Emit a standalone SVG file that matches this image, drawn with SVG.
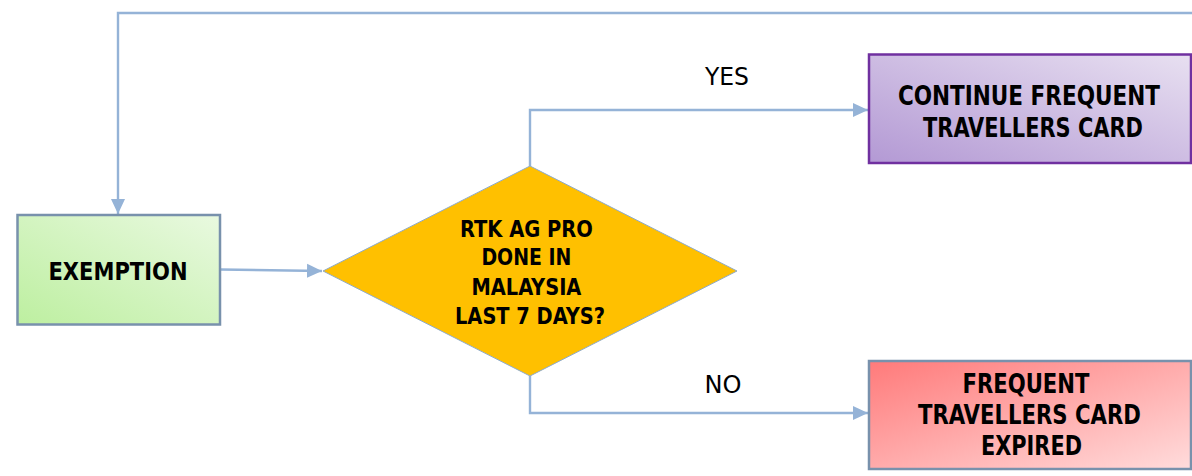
<svg xmlns="http://www.w3.org/2000/svg" width="1192" height="476" viewBox="0 0 1192 476">
  <style>
    .conn { fill: none; stroke: #95B3D7; stroke-width: 2.4; }
    .lbl { font-family: "DejaVu Sans Condensed", "DejaVu Sans", "Liberation Sans", sans-serif; font-weight: bold; fill: #000; text-anchor: middle; }
    .yn { font-family: "DejaVu Sans", "Liberation Sans", sans-serif; font-size: 25px; fill: #000; text-anchor: middle; }
  </style>
  <defs>
    <marker id="arr" markerUnits="userSpaceOnUse" markerWidth="16" markerHeight="16" refX="15" refY="8" orient="auto">
      <path d="M0,1 L15,8 L0,15 Z" fill="#95B3D7"/>
    </marker>
    <linearGradient id="gGreen" x1="0" y1="1" x2="1" y2="0">
      <stop offset="0" stop-color="#BDEFA0"/>
      <stop offset="1" stop-color="#E9F9E0"/>
    </linearGradient>
    <linearGradient id="gPurple" x1="0" y1="1" x2="1" y2="0">
      <stop offset="0" stop-color="#B399D4"/>
      <stop offset="1" stop-color="#E8E0F1"/>
    </linearGradient>
    <linearGradient id="gRed" x1="0" y1="0" x2="1" y2="1">
      <stop offset="0" stop-color="#FF7A7A"/>
      <stop offset="1" stop-color="#FFDCDC"/>
    </linearGradient>
  </defs>

  <g id="connectors">
    <path class="conn" d="M1192,13 L118,13 L118,214" marker-end="url(#arr)"/>
    <path class="conn" d="M220,269.5 L322,271" marker-end="url(#arr)"/>
    <path class="conn" d="M530,166 L530,110 L868,110" marker-end="url(#arr)"/>
    <path class="conn" d="M530,376 L530,413 L868,413" marker-end="url(#arr)"/>
  </g>

  <g id="label-yes"><text class="yn" x="727" y="85" textLength="44" lengthAdjust="spacingAndGlyphs">YES</text></g>
  <g id="label-no"><text class="yn" x="723" y="393" textLength="37" lengthAdjust="spacingAndGlyphs">NO</text></g>

  <g id="exemption">
    <rect x="17.5" y="215" width="202.5" height="109.5" fill="url(#gGreen)" stroke="#7891AC" stroke-width="2.5"/>
    <text class="lbl" x="118" y="280" font-size="25" textLength="139" lengthAdjust="spacingAndGlyphs">EXEMPTION</text>
  </g>

  <g id="decision">
    <polygon points="323,271 530,166 737,271 530,376" fill="#FFC000" stroke="#8EAAC8" stroke-width="1"/>
    <text class="lbl" font-size="23">
      <tspan x="530" y="237" textLength="133" lengthAdjust="spacingAndGlyphs">RTK AG PRO</tspan>
      <tspan x="530" y="265" textLength="90" lengthAdjust="spacingAndGlyphs">DONE IN</tspan>
      <tspan x="530" y="295" textLength="110" lengthAdjust="spacingAndGlyphs">MALAYSIA</tspan>
      <tspan x="530" y="324" textLength="150" lengthAdjust="spacingAndGlyphs">LAST 7 DAYS?</tspan>
    </text>
  </g>

  <g id="continue-card">
    <rect x="869" y="54.5" width="322" height="108.5" fill="url(#gPurple)" stroke="#7030A0" stroke-width="2.5"/>
    <text class="lbl" font-size="26">
      <tspan x="1033" y="105" textLength="262" lengthAdjust="spacingAndGlyphs">CONTINUE FREQUENT</tspan>
      <tspan x="1033" y="137" textLength="220" lengthAdjust="spacingAndGlyphs">TRAVELLERS CARD</tspan>
    </text>
  </g>

  <g id="card-expired">
    <rect x="869" y="361" width="322" height="108" fill="url(#gRed)" stroke="#7891AC" stroke-width="2.5"/>
    <text class="lbl" font-size="26">
      <tspan x="1030" y="393" textLength="127" lengthAdjust="spacingAndGlyphs">FREQUENT</tspan>
      <tspan x="1033.5" y="424" textLength="223" lengthAdjust="spacingAndGlyphs">TRAVELLERS CARD</tspan>
      <tspan x="1031.5" y="455" textLength="101" lengthAdjust="spacingAndGlyphs">EXPIRED</tspan>
    </text>
  </g>
</svg>
